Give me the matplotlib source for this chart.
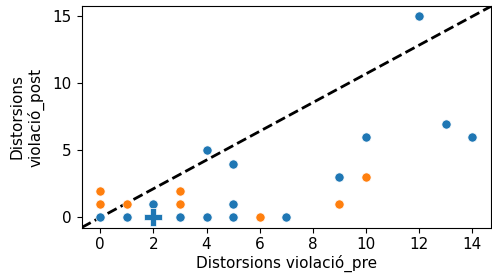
import numpy as np
import matplotlib
matplotlib.use('Agg')
import matplotlib.pyplot as plt

# group A (blue)
pre_a = [0, 1, 2, 3, 4, 4, 5, 5, 5, 7, 9, 10, 12, 13, 14]
post_a = [0, 0, 1, 0, 0, 5, 0, 1, 4, 0, 3, 6, 15, 7, 6]
# group B (orange)
pre_b = [0, 0, 1, 3, 3, 6, 9, 10]
post_b = [1, 2, 1, 1, 2, 0, 1, 3]
# highlighted point
pre_c = [2]
post_c = [0]

plt.rcParams['font.family'] = ['DejaVu Sans']
plt.rcParams['font.size'] = 11

fig = plt.figure(figsize=(4.92, 2.80), dpi=100)
ax = fig.add_axes([0.166, 0.1875, 0.8314, 0.7895])

ax.scatter(pre_a, post_a, s=44, c='#1f77b4', edgecolors='white', linewidths=0.5, zorder=3)
ax.scatter(pre_b, post_b, s=44, c='#ff7f0e', edgecolors='white', linewidths=0.5, zorder=3)
ax.scatter(pre_c, post_c, s=170, marker='P', c='#1f77b4', edgecolors='white', linewidths=0.5, zorder=3)

ax.plot([0, 1], [0, 1], transform=ax.transAxes, ls='--', c='k', lw=2, zorder=2)

ax.set_xlim(-0.7, 14.7)
ax.set_ylim(-0.75, 15.75)
ax.set_xticks(np.arange(0, 15, 2))
ax.set_yticks([0, 5, 10, 15])
ax.set_xlabel('Distorsions violació_pre', labelpad=2)
ax.set_ylabel('Distorsions\nviolació_post', labelpad=6)

plt.savefig('out.png', dpi=100)
